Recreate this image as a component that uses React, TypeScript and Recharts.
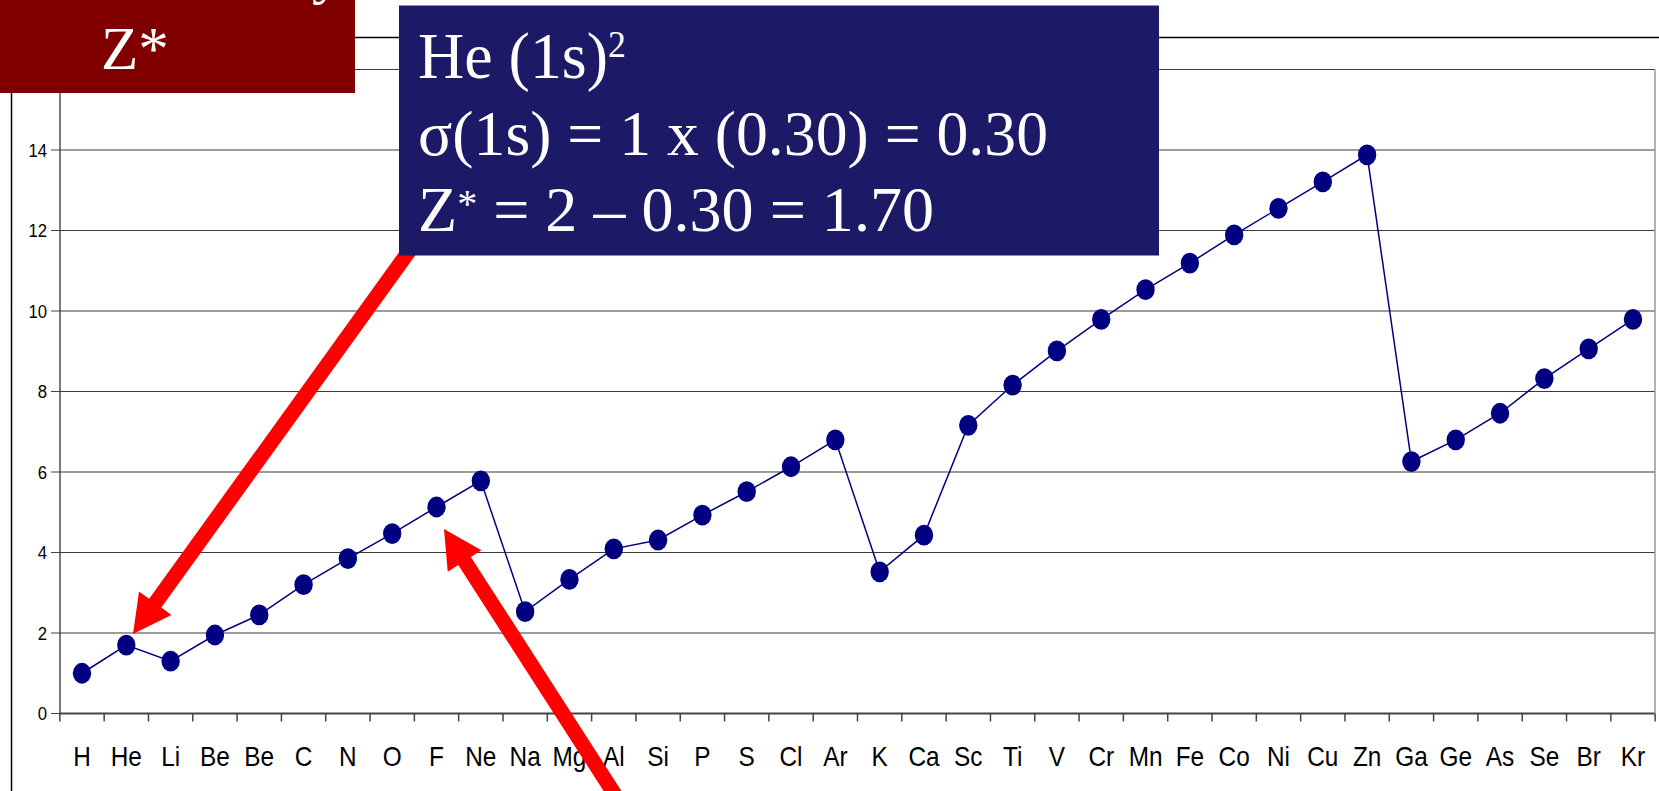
import { ComposedChart, Line, XAxis, YAxis, CartesianGrid } from "recharts"

// Z* (effective nuclear charge) per element
const elements = [
  "H", "He", "Li", "Be", "Be", "C", "N", "O", "F", "Ne",
  "Na", "Mg", "Al", "Si", "P", "S", "Cl", "Ar", "K", "Ca",
  "Sc", "Ti", "V", "Cr", "Mn", "Fe", "Co", "Ni", "Cu", "Zn",
  "Ga", "Ge", "As", "Se", "Br", "Kr",
]
const zEff = [
  1.0, 1.7, 1.3, 1.95, 2.45, 3.2, 3.85, 4.47, 5.13, 5.78,
  2.53, 3.33, 4.09, 4.31, 4.93, 5.51, 6.13, 6.8, 3.52, 4.43,
  7.16, 8.16, 9.01, 9.79, 10.53, 11.19, 11.89, 12.55, 13.21, 13.88,
  6.26, 6.8, 7.46, 8.32, 9.06, 9.79,
]
const yTicks = [0, 2, 4, 6, 8, 10, 12, 14, 16]

const data = elements.map((el, i) => ({ el, z: zEff[i] }))

const W = 1659
const H = 791
const PLOT_LEFT = 60
const PLOT_RIGHT = 1655
const PLOT_TOP = 69.5
const PLOT_BOTTOM = 713.5
const BAND = (PLOT_RIGHT - PLOT_LEFT) / elements.length
const NAVY = "#000080"
const SANS = "'Liberation Sans', Arial, sans-serif"
const SERIF = "'Liberation Serif', 'Times New Roman', serif"

function XTick(props: any) {
  const { x, y, payload, index } = props
  return (
    <g>
      <line x1={x - BAND / 2} x2={x - BAND / 2} y1={y} y2={y + 8} stroke="#444" strokeWidth={1.5} />
      {index === elements.length - 1 && (
        <line x1={x + BAND / 2} x2={x + BAND / 2} y1={y} y2={y + 8} stroke="#444" strokeWidth={1.5} />
      )}
      <g transform={`translate(${x},${y + 52}) scale(0.87,1)`}>
        <text x={0} y={0} textAnchor="middle" fontSize={28} fontFamily={SANS} fill="#000">
          {payload.value}
        </text>
      </g>
    </g>
  )
}

function YTick(props: any) {
  const { x, y, payload } = props
  return (
    <g transform={`translate(${x},${y}) scale(0.88,1)`}>
      <text x={0} y={0} dy="0.36em" textAnchor="end" fontSize={19} fontFamily={SANS} fill="#000">
        {payload.value}
      </text>
    </g>
  )
}

function Dot(props: any) {
  const { cx, cy, index } = props
  return <ellipse key={`d${index}`} cx={cx} cy={cy} rx={9.2} ry={10.4} fill={NAVY} />
}

// polygon for a fat annotation arrow (tail -> tip)
function arrowPoints(x1: number, y1: number, x2: number, y2: number, shaft: number, headLen: number, headW: number) {
  const dx = x2 - x1
  const dy = y2 - y1
  const len = Math.hypot(dx, dy)
  const ux = dx / len
  const uy = dy / len
  const px = -uy
  const py = ux
  const bx = x2 - ux * headLen
  const by = y2 - uy * headLen
  const pts = [
    [x1 + (px * shaft) / 2, y1 + (py * shaft) / 2],
    [bx + (px * shaft) / 2, by + (py * shaft) / 2],
    [bx + (px * headW) / 2, by + (py * headW) / 2],
    [x2, y2],
    [bx - (px * headW) / 2, by - (py * headW) / 2],
    [bx - (px * shaft) / 2, by - (py * shaft) / 2],
    [x1 - (px * shaft) / 2, y1 - (py * shaft) / 2],
  ]
  return pts.map((p) => p.join(",")).join(" ")
}

export default function App() {
  return (
    <div style={{ position: "absolute", left: 0, top: 0, width: W, height: H, overflow: "hidden", background: "#fff" }}>
      {/* chart area frame */}
      <svg width={W} height={H} style={{ position: "absolute", left: 0, top: 0 }}>
        <line x1={11.5} x2={11.5} y1={37} y2={H} stroke="#000" strokeWidth={1.5} />
        <line x1={11} x2={W} y1={37.5} y2={37.5} stroke="#000" strokeWidth={1.5} />
      </svg>

      <div style={{ position: "absolute", left: 0, top: 0 }}>
        <ComposedChart width={W} height={H} data={data} margin={{ top: PLOT_TOP, right: 0, bottom: 0, left: 0 }}>
          <CartesianGrid vertical={false} stroke="#3a3a3a" strokeWidth={1.2} />
          <XAxis
            dataKey="el"
            padding={{ left: 22, right: 22 }}
            height={H - PLOT_BOTTOM}
            interval={0}
            tickLine={false}
            tickSize={0}
            tickMargin={0}
            axisLine={{ stroke: "#444", strokeWidth: 2 }}
            tick={(p: any) => <XTick {...p} />}
          />
          <YAxis
            width={PLOT_LEFT}
            domain={[0, 16]}
            ticks={yTicks}
            interval={0}
            tickSize={9}
            tickMargin={4}
            axisLine={{ stroke: "#222", strokeWidth: 1.2 }}
            tickLine={{ stroke: "#444" }}
            tick={(p: any) => <YTick {...p} />}
          />
          <YAxis
            yAxisId="right"
            orientation="right"
            width={W - PLOT_RIGHT}
            domain={[0, 16]}
            tick={false}
            tickLine={false}
            axisLine={{ stroke: "#999", strokeWidth: 1.5 }}
          />
          <Line
            dataKey="z"
            stroke={NAVY}
            strokeWidth={1.5}
            dot={(p: any) => <Dot {...p} />}
            activeDot={false}
            isAnimationActive={false}
          />
        </ComposedChart>
      </div>

      {/* slide annotations */}
      <svg width={W} height={H} style={{ position: "absolute", left: 0, top: 0, pointerEvents: "none" }}>
        <polygon points={arrowPoints(420, 236, 133, 634, 15, 38, 40)} fill="#ff0000" />
        <polygon points={arrowPoints(628, 815, 444, 529, 15, 38, 40)} fill="#ff0000" />

        <rect x={0} y={0} width={355} height={93} fill="#800000" />
        <text x={312} y={-8} fontSize={61} fontFamily={SERIF} fill="#fff">y</text>
        <text x={101} y={69} fontSize={61} fontFamily={SERIF} fill="#fff">Z*</text>

        <rect x={399} y={5.5} width={760} height={250} fill="#1c1a66" />
        <text x={418} y={78} fontSize={66} fontFamily={SERIF} fill="#fff" textLength={208} lengthAdjust="spacingAndGlyphs">
          He (1s)<tspan dy={-21} fontSize={37}>2</tspan>
        </text>
        <text x={418} y={155} fontSize={64} fontFamily={SERIF} fill="#fff" textLength={630} lengthAdjust="spacingAndGlyphs">
          σ(1s) = 1 x (0.30) = 0.30
        </text>
        <text x={418} y={231} fontSize={64} fontFamily={SERIF} fill="#fff" textLength={516} lengthAdjust="spacingAndGlyphs">
          Z<tspan dy={-14} fontSize={40}>*</tspan>
          <tspan dy={14}> = 2 – 0.30 = 1.70</tspan>
        </text>
      </svg>
    </div>
  )
}
